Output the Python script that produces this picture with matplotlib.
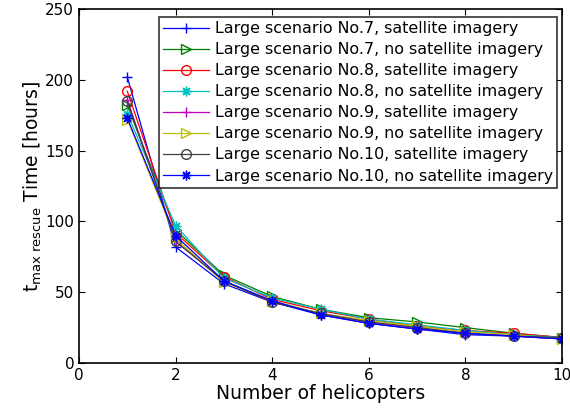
import matplotlib
matplotlib.use('Agg')
import matplotlib.pyplot as plt

plt.rcParams['font.family'] = ['DejaVu Sans']

helicopters = [1, 2, 3, 4, 5, 6, 7, 8, 9, 10]

# time until max rescue [hours]
no7_sat = [202, 82, 56, 43, 34, 28, 24, 20, 19, 17]
no7_nosat = [182, 94, 62, 47, 38, 32, 29, 25, 21, 18]
no8_sat = [192, 92, 61, 45, 37, 31, 26, 23, 21, 18]
no8_nosat = [176, 97, 60, 46, 38, 31, 27, 23, 20, 18]
no9_sat = [186, 86, 58, 43, 35, 29, 25, 21, 19, 17]
no9_nosat = [172, 88, 57, 44, 35, 30, 26, 22, 20, 17]
no10_sat = [185, 86, 58, 43, 35, 29, 25, 21, 19, 18]
no10_nosat = [173, 90, 58, 44, 34, 28, 24, 21, 19, 17]

labels = [
    'Large scenario No.7, satellite imagery',
    'Large scenario No.7, no satellite imagery',
    'Large scenario No.8, satellite imagery',
    'Large scenario No.8, no satellite imagery',
    'Large scenario No.9, satellite imagery',
    'Large scenario No.9, no satellite imagery',
    'Large scenario No.10, satellite imagery',
    'Large scenario No.10, no satellite imagery',
]
series = [no7_sat, no7_nosat, no8_sat, no8_nosat, no9_sat, no9_nosat, no10_sat, no10_nosat]

# old matlab colour order / marker styles, '*' drawn as 8-arm asterisk
star = (8, 2, 0)
styles = [
    ('#0000ff', '+'),
    ('#008000', '>'),
    ('#ff0000', 'o'),
    ('#00bfbf', star),
    ('#bf00bf', '+'),
    ('#bfbf00', '>'),
    ('#404040', 'o'),
    ('#0000ff', star),
]

fig = plt.figure(figsize=(5.7, 4.17), dpi=100)
ax = fig.add_axes([0.1386, 0.1295, 0.8474, 0.8485])

for vals, lab, (c, m) in zip(series, labels, styles):
    ax.plot(helicopters, vals, color=c, marker=m, markersize=7, markerfacecolor='none',
            markeredgecolor=c, linewidth=0.9, label=lab)

ax.set_xlim(0, 10)
ax.set_ylim(0, 250)
ax.set_xticks(range(0, 11, 2))
ax.set_yticks(range(0, 251, 50))
ax.tick_params(direction='in', top=True, right=True, labelsize=11, length=4)
for s in ax.spines.values():
    s.set_linewidth(1.2)

ax.set_xlabel('Number of helicopters', fontsize=13.5, labelpad=1)
ax.set_ylabel(r'$\mathregular{t_{max\ rescue}}$ Time [hours]', fontsize=13.5, labelpad=1)

leg = ax.legend(loc='upper right', bbox_to_anchor=(0.99, 0.978), fontsize=11.4, frameon=True,
                fancybox=False, edgecolor='black', handlelength=2.9, labelspacing=0.38,
                borderpad=0.28, handletextpad=0.35, borderaxespad=0)
leg.get_frame().set_linewidth(1.2)

plt.savefig('out.png', dpi=100)
